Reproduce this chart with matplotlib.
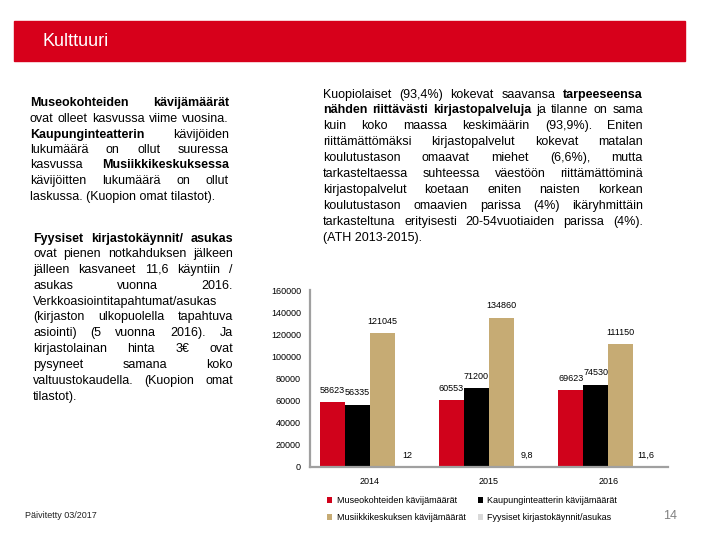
import matplotlib
matplotlib.use("Agg")
import matplotlib.pyplot as plt
from matplotlib.patches import Rectangle
import numpy as np

# data
years = ["2014", "2015", "2016"]
series = ["Museokohteiden kävijämäärät", "Kaupunginteatterin kävijämäärät",
          "Musiikkikeskuksen kävijämäärät", "Fyysiset kirjastokäynnit/asukas"]
museo = [58623, 60553, 69623]
teatteri = [56335, 71200, 74530]
musiikki = [121045, 134860, 111150]
kirjasto = [12, 9.8, 11.6]
yticks = [0, 20000, 40000, 60000, 80000, 100000, 120000, 140000, 160000]

colors = ["#D0021B", "#000000", "#C6AB74", "#D9D9D9"]

block1 = [
    ("**Museokohteiden kävijämäärät**", True),
    ("ovat olleet kasvussa viime vuosina.", True),
    ("**Kaupunginteatterin** kävijöiden", True),
    ("lukumäärä on ollut suuressa", True),
    ("kasvussa **Musiikkikeskuksessa**", True),
    ("kävijöitten lukumäärä on ollut", True),
    ("laskussa. (Kuopion omat tilastot).", False),
]
block2 = [
    ("**Fyysiset kirjastokäynnit/ asukas**", True),
    ("ovat pienen notkahduksen jälkeen", True),
    ("jälleen kasvaneet 11,6 käyntiin /", True),
    ("asukas vuonna 2016.", True),
    ("Verkkoasiointitapahtumat/asukas", False),
    ("(kirjaston ulkopuolella tapahtuva", True),
    ("asiointi) (5 vuonna 2016). Ja", True),
    ("kirjastolainan hinta 3€ ovat", True),
    ("pysyneet samana koko", True),
    ("valtuustokaudella. (Kuopion omat", True),
    ("tilastot).", False),
]
block3 = [
    ("Kuopiolaiset (93,4%) kokevat saavansa **tarpeeseensa**", True),
    ("**nähden riittävästi kirjastopalveluja** ja tilanne on sama", True),
    ("kuin koko maassa keskimäärin (93,9%). Eniten", True),
    ("riittämättömäksi kirjastopalvelut kokevat matalan", True),
    ("koulutustason omaavat miehet (6,6%), mutta", True),
    ("tarkasteltaessa suhteessa väestöön riittämättöminä", True),
    ("kirjastopalvelut koetaan eniten naisten korkean", True),
    ("koulutustason omaavien parissa (4%) ikäryhmittäin", True),
    ("tarkasteltuna erityisesti 20-54vuotiaiden parissa (4%).", True),
    ("(ATH 2013-2015).", False),
]

plt.rcParams["font.family"] = ["Liberation Sans", "DejaVu Sans"]

W, H = 720, 540
fig = plt.figure(figsize=(7.2, 5.4), dpi=100)


def fx(px):
    return px / W


def fy(py):
    return 1 - py / H


# red header
fig.add_artist(Rectangle((fx(14), fy(61)), (685 - 14) / W, (61 - 21) / H,
                         transform=fig.transFigure, color="#D7001B", zorder=0))
fig.text(fx(42), fy(41), "Kulttuuri", color="white", fontsize=13, va="center")


def text_block(lines, x0, x1, y0, dy, size=9):
    # justified lines, words placed one by one; y0 = centre of first line
    r = fig.canvas.get_renderer()
    for k, (line, just) in enumerate(lines):
        # whole-pixel baseline so every word lands on the same row
        y = fy(round(y0 + k * dy + 3.5))
        if not just:
            fig.text(fx(x0), y, line, fontsize=size, va="baseline")
            continue
        words = []
        for j, part in enumerate(line.split("**")):
            for w in part.split():
                words.append((w, j % 2 == 1))
        arts = [fig.text(fx(x0), y, w, fontsize=size, va="baseline",
                         fontweight="bold" if b else "normal") for w, b in words]
        widths = [a.get_window_extent(r).width for a in arts]
        gap = (x1 - x0 - sum(widths)) / (len(arts) - 1)
        x = x0
        for a, wd in zip(arts, widths):
            a.set_x(fx(x))
            x += wd + gap


text_block(block1, 30, 229, 103, 15.5)
text_block(block2, 33, 233, 238, 15.8)
text_block(block3, 323, 643, 94, 15.9)

# chart
ax = fig.add_axes([fx(310), fy(467), (668 - 310) / W, (467 - 290) / H])
x = np.arange(len(years))
w = 0.21
handles = []
for i, vals in enumerate([museo, teatteri, musiikki, kirjasto]):
    bars = ax.bar(x + (i - 1.5) * w, vals, w, color=colors[i], label=series[i])
    handles.append(bars)
    for b, v in zip(bars, vals):
        lab = f"{v:g}".replace(".", ",")
        ax.annotate(lab, (b.get_x() + b.get_width() / 2, v), xytext=(0, 8.6),
                    textcoords="offset points", ha="center", va="center",
                    fontsize=6.5)

ax.set_xlim(-0.5, 2.5)
ax.set_ylim(0, 160000)
ax.set_yticks(yticks)
ax.set_yticklabels([str(t) for t in yticks])
ax.set_xticks(x)
ax.set_xticklabels(years)
ax.tick_params(axis="y", length=0, labelsize=6.5, pad=6.5)
ax.tick_params(axis="x", length=0, labelsize=6.5, pad=7)
for s in ["top", "right"]:
    ax.spines[s].set_visible(False)
for s in ["left", "bottom"]:
    ax.spines[s].set_color("#A0A0A0")
    ax.spines[s].set_linewidth(1.6)

ax.legend(handles=[handles[0], handles[2], handles[1], handles[3]], ncol=2,
          loc="upper left", bbox_to_anchor=(fx(327), fy(496)),
          bbox_transform=fig.transFigure, frameon=False, fontsize=6.5,
          handlelength=0.6, handleheight=0.6, handletextpad=0.5,
          columnspacing=1.3, borderpad=0, borderaxespad=0, labelspacing=0.9)

fig.text(fx(25), fy(515), "Päivitetty 03/2017", fontsize=6.5, va="center",
         color="#222222")
fig.text(fx(670), fy(516), "14", fontsize=9, va="center", ha="center",
         color="#808080")

fig.savefig("out.png", dpi=100)
